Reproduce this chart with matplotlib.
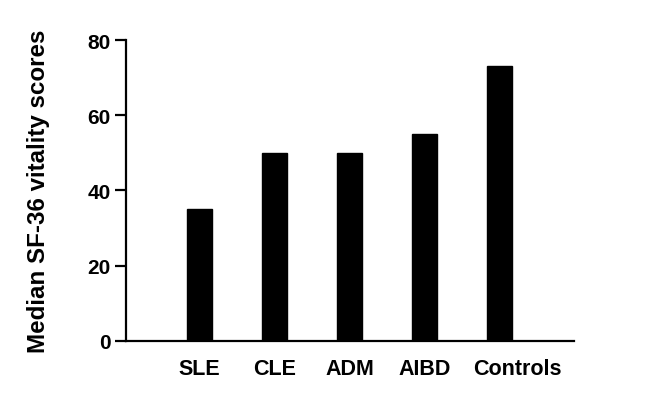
import numpy as np
import matplotlib
matplotlib.use("Agg")
import matplotlib.pyplot as plt
import matplotlib.transforms as mtransforms

categories = ["SLE", "CLE", "ADM", "AIBD", "Controls"]
scores = [35, 50, 50, 55, 73]
yticks = [0, 20, 40, 60, 80]

plt.rcParams['font.family'] = ['Liberation Sans', 'DejaVu Sans']

fig = plt.figure(figsize=(6.45, 4.06), dpi=100)
ax = fig.add_axes([0.195, 0.158, 0.695, 0.741])

x = np.arange(len(categories))
ax.bar(x, scores, width=0.33, color="black", edgecolor="black")

ax.set_xlim(-0.98, 4.99)
ax.set_ylim(0, 80)
ax.set_yticks(yticks)
ax.set_xticks(x)
ax.set_xticklabels(categories, fontsize=15.5, fontweight="bold")
ax.tick_params(axis="y", labelsize=15, width=1.6, length=8, pad=3)
for lab in ax.get_yticklabels():
    lab.set_fontweight("bold")
ax.tick_params(axis="x", length=0, pad=12)

# the "Controls" label sits a little right of its bar in the original
last = ax.get_xticklabels()[-1]
last.set_transform(last.get_transform() +
                   mtransforms.ScaledTranslation(18 / 100, 0, fig.dpi_scale_trans))

for side in ["top", "right"]:
    ax.spines[side].set_visible(False)
for side in ["left", "bottom"]:
    ax.spines[side].set_linewidth(1.6)

ax.set_ylabel("Median SF-36 vitality scores", fontsize=17.4, fontweight="bold", labelpad=27)

fig.savefig("out.png", dpi=100)
